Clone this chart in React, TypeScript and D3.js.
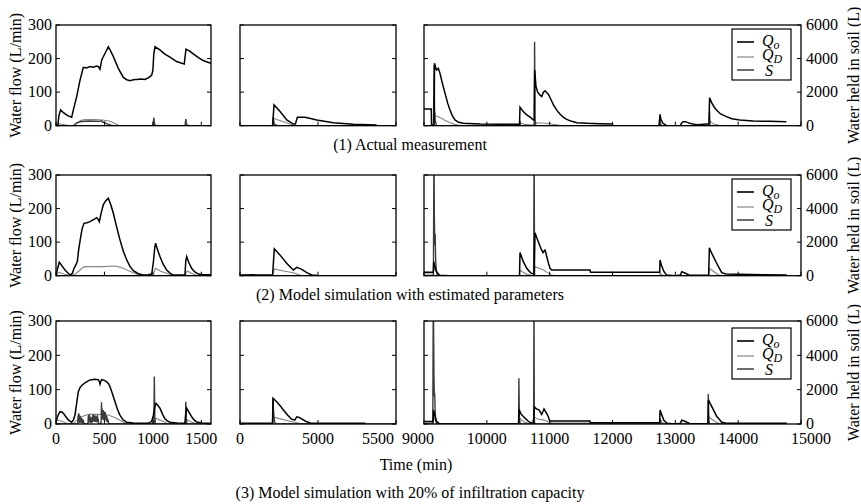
import React from "react";
import * as d3 from "d3";

type P = [number, number] | null;

// ---------- data (time in min, flow in L/min, S in L) ----------
const r1Qo: P[] = [
  [0,2],[20,3],[30,30],[48,47],[80,38],[120,30],[162,25],[179,47],[213,86],[248,136],[282,174],[316,172],[350,176],[385,174],[420,178],[437,176],[454,168],[472,196],[505,215],[540,235],[565,222],[592,206],[643,171],[695,144],[730,137],[764,134],[800,137],[833,138],[880,139],[919,138],[960,144],[988,151],[1000,165],[1010,215],[1022,235],[1073,226],[1120,214],[1176,204],[1245,191],[1300,186],[1324,184],[1330,200],[1342,228],[1380,222],[1417,214],[1470,203],[1520,194],[1560,190],[1600,186],
  null,
  [4500,0],[4709,0],[4718,62],[4757,42],[4800,17],[4842,5],[4855,5],[4868,25],[4918,25],[4992,17],[5098,9],[5226,4],[5376,2],
  null,
  [9000,50],[9115,50],[9120,2],[9160,2],[9168,186],[9190,170],[9202,166],[9228,171],[9255,156],[9290,128],[9334,97],[9380,65],[9414,47],[9450,30],[9493,17],[9550,10],[9626,7],[9891,5],[10200,4],[10520,4],[10528,55],[10580,42],[10635,32],[10700,24],[10741,17],[10755,17],[10762,166],[10783,116],[10810,100],[10847,91],[10873,87],[10900,100],[10926,104],[10950,99],[10979,94],[11020,78],[11060,62],[11110,47],[11166,34],[11220,25],[11272,19],[11350,13],[11432,9],[11600,7],[11800,6],[12014,5],
  null,
  [12740,0],[12757,34],[12770,20],[12800,8],[12860,0],[12950,0],
  null,
  [13080,2],[13120,12],[13160,12],[13230,7],[13300,4],[13350,3],[13500,5],[13535,5],[13545,83],[13580,68],[13620,55],[13654,47],[13720,35],[13813,27],[13900,21],[14025,17],[14237,14],[14500,13],[14768,12],
];
const r1Qd: P[] = [
  [0,0],[15,0],[25,6],[50,5],[90,3],[140,0],[190,0],[220,10],[260,16],[300,18],[400,18],[480,17],[550,14],[600,8],[640,2],[660,0],[1000,0],[1008,25],[1016,8],[1030,2],[1080,0],[1330,0],[1338,20],[1346,8],[1360,2],[1400,0],[1540,0],
  null,
  [4500,0],[4710,0],[4716,22],[4740,18],[4780,12],[4820,5],[4860,0],[5400,0],
  null,
  [9000,0],[9155,0],[9165,45],[9180,30],[9200,28],[9260,24],[9330,16],[9400,10],[9480,4],[9560,1],[9700,0],[10520,0],[10530,8],[10600,4],[10740,2],[10760,12],[10800,8],[10900,8],[11000,6],[11100,3],[11200,0],[12750,0],[12757,10],[12790,0],[13540,0],[13548,14],[13600,6],[13700,1],[14800,0],
];
const r1S: P[] = [
  [0,0],[180,0],[210,150],[260,250],[350,280],[450,260],[470,300],[480,200],[500,220],[520,120],[560,40],[600,0],[1005,0],[1010,450],[1018,0],[1335,0],[1340,400],[1348,0],[1600,0],
  null,
  [4500,0],[4708,0],[4712,500],[4720,100],[4740,0],[5500,0],
  null,
  [9000,0],[9150,0],[9160,3600],[9168,900],[9180,300],[9200,0],[10520,0],[10526,300],[10535,0],[10755,0],[10760,5000],[10768,400],[10780,0],[12750,0],[12756,500],[12765,0],[13538,0],[13544,900],[13552,0],[14800,0],
];

const r2Qo: P[] = [
  [0,0],[15,20],[34,40],[60,30],[93,17],[130,6],[152,2],[170,8],[186,22],[205,32],[220,42],[235,80],[255,116],[270,140],[289,156],[320,158],[351,161],[380,166],[405,170],[420,173],[435,168],[447,161],[465,185],[488,211],[510,222],[540,231],[565,212],[592,186],[625,146],[661,106],[695,73],[730,47],[765,27],[798,15],[850,6],[901,2],[950,3],[988,5],[1005,40],[1020,85],[1029,97],[1045,80],[1073,57],[1105,35],[1142,17],[1180,7],[1210,2],[1331,2],[1340,45],[1349,57],[1370,40],[1400,22],[1430,12],[1469,5],[1520,3],[1600,3],
  null,
  [4500,2],[4709,3],[4720,80],[4756,62],[4799,37],[4842,17],[4855,22],[4865,25],[4896,19],[4928,9],[4960,2],[4992,1],
  null,
  [9000,10],[9148,10],[9155,42],[9170,30],[9200,12],[9250,1],[9400,0],[10520,0],[10528,69],[10555,55],[10581,42],[10635,22],[10690,10],[10714,7],[10750,5],[10767,128],[10790,115],[10820,101],[10850,86],[10873,76],[10895,69],[10915,74],[10926,76],[10940,68],[10953,57],[10980,38],[11006,22],[11032,17],[11300,17],[11643,17],[11650,10],[12750,10],[12757,47],[12780,30],[12820,12],[12860,2],[13000,0],[13080,2],[13102,12],[13150,8],[13235,1],[13530,1],[13542,83],[13570,70],[13606,57],[13650,40],[13686,27],[13739,9],[13800,5],[14000,4],[14400,3],[14773,2],
];
const r2Qd: P[] = [
  [0,0],[15,6],[34,10],[80,5],[145,0],[200,5],[248,17],[275,24],[300,27],[488,27],[592,29],[640,27],[695,22],[750,15],[798,9],[867,0],[1005,0],[1015,15],[1029,22],[1080,13],[1142,7],[1200,0],[1335,0],[1345,10],[1355,14],[1400,7],[1460,0],[1600,0],
  null,
  [4500,0],[4709,0],[4720,20],[4780,14],[4842,9],[4870,4],[4900,0],[5000,0],
  null,
  [9000,5],[9148,5],[9155,25],[9190,12],[9250,0],[10520,0],[10528,17],[10580,10],[10640,4],[10740,0],[10767,27],[10830,22],[10900,17],[10960,10],[11032,2],[11100,0],[12750,0],[12757,8],[12800,0],[13535,0],[13542,22],[13600,14],[13660,6],[13713,0],[14770,0],
];
const r2S: P[] = [
  [0,0],[1600,0],
  null,
  [4500,0],[5500,0],
  null,
  [9000,0],[9150,0],[9158,8000],[9165,3500],[9172,1800],[9178,2500],[9185,1000],[9195,400],[9210,0],[10745,0],[10752,8000],[10760,0],[14773,0],
];

const r3Qo: P[] = [
  [0,5],[20,25],[41,36],[60,35],[76,31],[100,22],[127,12],[162,5],[180,12],[196,26],[213,60],[230,94],[248,106],[265,112],[290,118],[316,123],[340,127],[368,129],[400,130],[437,129],[447,124],[454,116],[462,124],[472,129],[500,127],[523,123],[540,118],[557,109],[580,90],[609,65],[635,42],[660,26],[690,13],[730,5],[800,3],[936,2],[970,4],[988,8],[1005,25],[1020,50],[1032,60],[1050,55],[1073,46],[1100,28],[1125,15],[1150,9],[1176,5],[1250,3],[1331,2],[1340,30],[1349,46],[1370,36],[1400,21],[1425,12],[1452,6],[1500,3],[1600,2],
  null,
  [4500,2],[4709,2],[4712,75],[4735,65],[4760,52],[4778,41],[4805,26],[4831,14],[4852,12],[4864,21],[4880,19],[4896,15],[4920,8],[4950,3],[5000,2],[5304,2],
  null,
  [9000,7],[9145,7],[9152,41],[9170,25],[9200,8],[9240,1],[9400,0],[10505,0],[10514,43],[10540,30],[10570,24],[10608,17],[10660,8],[10700,3],[10745,3],[10755,50],[10790,44],[10830,41],[10873,28],[10890,35],[10910,44],[10935,36],[10960,28],[10979,21],[11000,9],[11640,9],[11645,4],[12750,4],[12757,41],[12780,28],[12820,10],[12870,2],[13000,0],[13080,2],[13102,11],[13150,8],[13235,1],[13520,1],[13526,70],[13560,58],[13606,41],[13660,22],[13686,17],[13739,5],[13800,3],[14000,2],[14773,2],
];
const r3Qd: P[] = [
  [0,12],[30,10],[80,6],[127,0],[180,2],[230,15],[290,24],[340,28],[450,28],[540,26],[600,20],[626,16],[680,8],[730,0],[990,0],[1010,10],[1032,17],[1070,12],[1125,5],[1160,0],[1335,0],[1345,14],[1380,8],[1450,0],[1600,0],
  null,
  [4500,0],[4709,0],[4715,20],[4760,15],[4820,8],[4880,2],[4920,0],[5300,0],
  null,
  [9000,3],[9145,3],[9152,20],[9190,8],[9240,0],[10505,0],[10514,20],[10560,10],[10620,4],[10700,0],[10755,20],[10820,14],[10900,12],[10980,6],[11050,3],[11640,3],[11650,1],[12750,1],[12757,15],[12800,3],[12860,0],[13520,0],[13530,22],[13580,14],[13650,6],[13720,0],[14773,0],
];
const r3S: P[] = [
  [0,0],[225,0],[228,500],[230,100],[233,620],[236,150],[239,560],[242,80],[245,420],[248,60],[251,480],[254,150],[257,380],[260,200],[263,330],[266,50],[270,300],[275,40],[280,250],[290,0],[330,0],[333,450],[336,80],[339,520],[342,100],[345,560],[348,200],[351,420],[354,100],[357,300],[360,50],[364,380],[368,60],[372,420],[376,100],[380,520],[384,150],[388,560],[392,150],[396,480],[400,120],[404,500],[408,200],[412,380],[416,100],[420,450],[424,100],[428,520],[432,150],[436,300],[440,0],[465,0],[470,1260],[473,300],[476,900],[479,400],[482,700],[485,250],[488,820],[491,300],[494,750],[497,200],[500,650],[504,300],[508,700],[512,250],[516,550],[520,150],[525,450],[530,100],[538,200],[545,0],[1010,0],[1015,2760],[1020,400],[1026,0],[1336,0],[1340,1300],[1345,300],[1352,0],[1600,0],
  null,
  [4500,0],[4708,0],[4711,1500],[4716,600],[4722,100],[4730,0],[5500,0],
  null,
  [9000,0],[9140,0],[9148,8000],[9158,3000],[9164,1600],[9170,1800],[9176,900],[9185,300],[9200,0],[10505,0],[10510,2660],[10518,400],[10530,0],[10745,0],[10750,8000],[10756,200],[10765,0],[12755,0],[12760,300],[12770,0],[13520,0],[13524,1740],[13532,500],[13540,0],[14773,0],
];

const captions = [
  "(1) Actual measurement",
  "(2) Model simulation with estimated parameters",
  "(3) Model simulation with 20% of infiltration capacity",
];
const flowTicks = [0, 100, 200, 300];
const soilTicks = [0, 2000, 4000, 6000];
const panelDomains: [number, number][] = [[0, 1600], [4500, 5500], [9000, 15000]];
const panelTicks = [[0, 500, 1000, 1500], [4500, 5000, 5500], [9000, 10000, 11000, 12000, 13000, 14000, 15000]];
const panelTickLabels = [["0", "500", "1000", "1500"], ["0", "5000", "5500"], ["9000", "10000", "11000", "12000", "13000", "14000", "15000"]];

// ---------- layout ----------
const W = 861, H = 504;
const panelX: [number, number][] = [[56, 211], [240, 396], [424, 801]];
const rowY: [number, number][] = [[25, 125.7], [175, 275.7], [321, 424]];
const legendTop = [29, 179, 328];
// pixel nudges of edge tick labels (layout only)
const labelShift: Record<string, number> = { "5500": -18, "9000": -6, "15000": 10 };
const FONT = "Liberation Serif, Times New Roman, Times, serif";
const C_QO = "#000", C_QD = "#858585", C_S = "#3c3c3c";
const TS: React.CSSProperties = { fontFamily: FONT, fontSize: "16px" };

const rowsData = [
  { qo: r1Qo, qd: r1Qd, s: r1S },
  { qo: r2Qo, qd: r2Qd, s: r2S },
  { qo: r3Qo, qd: r3Qd, s: r3S },
];

function clipData(data: P[], d: [number, number]): P[] {
  return data.map((p) => (p && p[0] >= d[0] && p[0] <= d[1] ? p : null));
}

export default function App() {
  return (
    <svg width={W} height={H} style={{ position: "absolute", left: 0, top: 0, background: "#fff", fontFamily: FONT }}>
      <defs>
        {rowY.map((ry, ri) =>
          panelX.map((px, pi) => (
            <clipPath id={`c${ri}${pi}`} key={`c${ri}${pi}`}>
              <rect x={px[0]} y={ry[0]} width={px[1] - px[0]} height={ry[1] - ry[0]} />
            </clipPath>
          ))
        )}
      </defs>
      {rowY.map((ry, ri) => {
        const y = d3.scaleLinear().domain([0, 300]).range([ry[1], ry[0]]);
        const yS = d3.scaleLinear().domain([0, 6000]).range([ry[1], ry[0]]);
        const rd = rowsData[ri];
        const mid = (ry[0] + ry[1]) / 2;
        return (
          <g key={ri}>
            {panelX.map((px, pi) => {
              const x = d3.scaleLinear().domain(panelDomains[pi]).range(px);
              const lf = d3.line<P>().defined((d) => d !== null).x((d) => x(d![0])).y((d) => y(d![1]));
              const lS = d3.line<P>().defined((d) => d !== null).x((d) => x(d![0])).y((d) => yS(d![1]));
              return (
                <g key={pi}>
                  <g clipPath={`url(#c${ri}${pi})`}>
                    <path d={lf(clipData(rd.qd, panelDomains[pi])) || ""} fill="none" stroke={C_QD} strokeWidth={1.1} />
                    <path d={lS(clipData(rd.s, panelDomains[pi])) || ""} fill="none" stroke={C_S} strokeWidth={1.4} />
                    <path d={lf(clipData(rd.qo, panelDomains[pi])) || ""} fill="none" stroke={C_QO} strokeWidth={1.5} />
                  </g>
                  <rect x={px[0]} y={ry[0]} width={px[1] - px[0]} height={ry[1] - ry[0]} fill="none" stroke="#000" strokeWidth={1.3} />
                  {flowTicks.map((t) => (
                    <g key={t}>
                      <line x1={px[0]} x2={px[0] + 4} y1={y(t)} y2={y(t)} stroke="#000" strokeWidth={1} />
                      <line x1={px[1]} x2={px[1] - 4} y1={y(t)} y2={y(t)} stroke="#000" strokeWidth={1} />
                    </g>
                  ))}
                  {panelTicks[pi].map((t) => (
                    <line key={t} x1={x(t)} x2={x(t)} y1={ry[1]} y2={ry[1] - 4} stroke="#000" strokeWidth={1} />
                  ))}
                  {ri === 2 &&
                    panelTicks[pi].map((t, k) => (
                      <text key={t} x={x(t) + (labelShift[panelTickLabels[pi][k]] || 0)} y={ry[1] + 20} style={TS} textAnchor="middle" fill="#000">
                        {panelTickLabels[pi][k]}
                      </text>
                    ))}
                </g>
              );
            })}
            {flowTicks.map((t) => (
              <text key={t} x={52} y={y(t)} dy="0.33em" style={TS} textAnchor="end" fill="#000">{t}</text>
            ))}
            {soilTicks.map((t) => (
              <text key={t} x={806} y={yS(t)} dy="0.33em" style={TS} textAnchor="start" fill="#000">{t}</text>
            ))}
            <text transform={`translate(16,${mid}) rotate(-90)`} style={TS} textAnchor="middle" dy="0.33em" fill="#000">Water flow (L/min)</text>
            <text transform={`translate(854,${mid}) rotate(-90)`} style={TS} textAnchor="middle" dy="0.33em" fill="#000">Water held in soil (L)</text>
            {/* legend */}
            <g transform={`translate(732,${legendTop[ri]})`}>
              <rect x={0} y={0} width={59} height={51} fill="#fff" stroke="#000" strokeWidth={1.2} />
              <line x1={5} x2={22} y1={13} y2={13} stroke={C_QO} strokeWidth={1.6} />
              <line x1={5} x2={22} y1={28} y2={28} stroke={C_QD} strokeWidth={1.2} />
              <line x1={5} x2={22} y1={41} y2={41} stroke={C_S} strokeWidth={1.5} />
              <text x={30} y={17} style={TS} fontStyle="italic" fill="#000">Q<tspan style={{ fontSize: "12px" }} dy={3}>o</tspan></text>
              <text x={30} y={31} style={TS} fontStyle="italic" fill="#000">Q<tspan style={{ fontSize: "12px" }} dy={3}>D</tspan></text>
              <text x={33} y={47} style={TS} fontStyle="italic" fill="#000">S</text>
            </g>
            {ri < 2 && (
              <text x={410} y={ry[1] + 24} style={TS} textAnchor="middle" fill="#000">{captions[ri]}</text>
            )}
          </g>
        );
      })}
      <text x={416} y={470} style={TS} textAnchor="middle" fill="#000">Time (min)</text>
      <text x={410} y={498} style={TS} textAnchor="middle" fill="#000">{captions[2]}</text>
    </svg>
  );
}
